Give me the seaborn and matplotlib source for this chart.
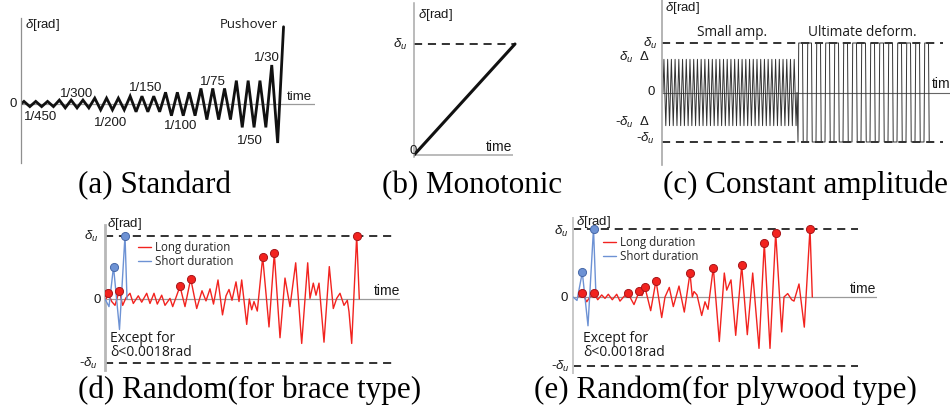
import numpy as np
import matplotlib
matplotlib.use("Agg")
import matplotlib.pyplot as plt
import matplotlib.transforms as mtransforms
from matplotlib.font_manager import FontProperties
import seaborn as sns

# ---------------------------------------------------------------- data
# (a) Standard protocol: drift levels, amplitudes [rad], cycles per level
std_levels = ['1/450', '1/300', '1/200', '1/150', '1/100', '1/75', '1/50', '1/30']
std_amps = [1/450, 1/300, 1/200, 1/150, 1/100, 1/75, 1/50, 1/30]
std_cycles = [3, 3, 3, 3, 3, 3, 3, 1]
pushover_peak = 0.066

# (b) Monotonic (delta / delta_u)
mono_t = [0, 101]
mono_d = [0.0, 1.0]

# (c) Constant amplitude (delta / delta_u)
small_amp = 0.67
small_cycles = 36
ult_amp = 1.0
ult_cycles = 15

# (d) Random, brace type (delta / delta_u)
brace_short_t = [0, 4, 8.5, 14.5, 20, 22]
brace_short_d = [0.0, -0.12, 0.51, -0.48, 1.0, 0.0]
brace_short_pk = [2, 4]
brace_long_t = [1, 3.3, 6.7, 10, 14.3, 17.7, 21, 25, 28.3, 33.3, 36.7, 41.7, 45, 49,
                52.3, 56.7, 60, 65, 67.7, 75, 80, 85.7, 91.7, 97, 101, 105, 108.5,
                113, 117.5, 121, 124, 127, 131, 134, 136.7, 141.7, 144.3, 146.7, 149,
                152.3, 157.7, 164, 169.3, 175, 180, 185, 190.7, 196.7, 202.7, 205,
                208.3, 211, 214, 219, 224.3, 228.3, 231.7, 235, 239, 242.3, 244,
                246.7, 251.7, 254.3]
brace_long_d = [0.0, 0.09, -0.04, -0.10, 0.13, -0.10, 0.02, 0.09, -0.07, 0.05, -0.05,
                0.09, -0.07, 0.09, -0.08, 0.06, -0.10, 0.01, -0.12, 0.20, -0.12, 0.32,
                -0.15, 0.13, -0.03, 0.16, -0.08, 0.30, -0.25, 0.05, 0.15, -0.02, 0.27,
                -0.04, 0.30, -0.40, 0.0, -0.17, -0.04, -0.19, 0.66, -0.44, 0.72, -0.61,
                0.33, -0.12, 0.57, -0.70, 0.57, 0.01, 0.25, 0.06, 0.25, -0.68, 0.51,
                -0.15, 0.01, 0.09, -0.10, -0.02, -0.20, -0.70, 1.0, 0.0]
brace_long_pk = [1, 4, 19, 21, 40, 42, 62]

# (e) Random, plywood type (delta / delta_u)
ply_short_t = [0, 4, 9.3, 15, 20.5, 23]
ply_short_d = [0.0, -0.05, 0.36, -0.42, 1.0, 0.0]
ply_short_pk = [2, 4]
ply_long_t = [5, 9.3, 13.7, 17, 21, 24.7, 28.7, 32, 35.3, 39.3, 43.7, 47, 50.5, 54.7,
              61, 64, 66.3, 69, 72, 77.7, 83, 88.7, 92, 96.3, 100.3, 106, 111.3, 117,
              119.3, 121, 124, 128.7, 132, 135, 140.3, 146.3, 151.3, 153.7, 158,
              162.7, 168.7, 174.3, 179.7, 186, 191.3, 197, 202.7, 208.7, 211, 214.7,
              218.7, 221, 226, 231.3, 237, 239.3]
ply_long_d = [0.0, 0.06, -0.07, 0.0, 0.06, -0.04, 0.03, -0.02, 0.04, -0.04, 0.04,
              -0.06, 0.0, 0.06, -0.11, 0.0, 0.09, 0.02, 0.14, -0.20, 0.24, -0.30, 0.0,
              0.14, -0.14, 0.16, -0.22, 0.35, 0.0, 0.08, 0.03, -0.27, -0.07, -0.18,
              0.43, -0.65, 0.35, 0.10, 0.25, -0.56, 0.46, -0.55, 0.35, -0.75, 0.79,
              -0.75, 0.94, -0.51, 0.0, 0.05, -0.04, -0.06, 0.19, -0.44, 1.0, 0.0]
ply_long_pk = [1, 4, 13, 16, 18, 20, 27, 34, 40, 44, 46, 54]

# ---------------------------------------------------------------- style
sns.set_theme(style="white")
plt.rcParams["font.family"] = ["Liberation Sans", "DejaVu Sans"]
plt.rcParams["mathtext.fontset"] = "custom"
plt.rcParams["mathtext.rm"] = "Liberation Sans"
plt.rcParams["mathtext.it"] = "Liberation Sans:italic"
plt.rcParams["mathtext.bf"] = "Liberation Sans:bold"

W, H = 950, 407
fig = plt.figure(figsize=(W / 100, H / 100), dpi=100)
fig.patch.set_facecolor("white")
PX = mtransforms.Affine2D().scale(1 / W, -1 / H).translate(0, 1) + fig.transFigure

RED, RED_E = "#f2231f", "#a8161a"
BLUE, BLUE_E = "#6d92d4", "#4769a8"
DASH = (0, (4.5, 3.2))


def make_ax(x0, x1, y0, y1, zero_y, scale, ycol="#9a9a9a", ylw=1.0):
    ax = fig.add_axes([x0 / W, 1 - y1 / H, (x1 - x0) / W, (y1 - y0) / H])
    ax.set_xlim(0, x1 - x0)
    ax.set_ylim((zero_y - y1) / scale, (zero_y - y0) / scale)
    ax.patch.set_alpha(0)
    for s in ["top", "right", "bottom"]:
        ax.spines[s].set_visible(False)
    ax.spines["left"].set_color(ycol)
    ax.spines["left"].set_linewidth(ylw)
    ax.set_xticks([])
    ax.set_yticks([])
    ax.set_xlabel("")
    ax.set_ylabel("")
    return ax


def txt(x, y, s, size=9.5, ha="center", va="center", family=None, **kw):
    fam = family if family is not None else ["Liberation Sans", "DejaVu Sans"]
    fig.text(x, y, s, transform=PX, fontsize=size, ha=ha, va=va,
             family=fam, color="#1a1a1a", **kw)


OPEN = ["Open Sans", "DejaVu Sans"]
SERIF = ["Liberation Serif", "DejaVu Serif"]

# ---------------------------------------------------------------- (a) Standard
period_a = 11.8
ta, da = [0.0], [0.0]
t0 = 0.0
for a, n in zip(std_amps, std_cycles):
    for _ in range(n):
        ta += [t0 + period_a / 4, t0 + 3 * period_a / 4]
        da += [a, -a]
        t0 += period_a
ta.append(ta[-1] + period_a / 2)
da.append(pushover_peak)

axA = make_ax(21, 315, 18, 163, 104, 1170, ycol="#8f8f8f", ylw=0.9)
axA.axhline(0, color="#9a9a9a", lw=0.9)
sns.lineplot(x=ta, y=da, ax=axA, color="#111111", lw=2.0, sort=False,
             estimator=None)
for ln in axA.get_lines():
    ln.set_solid_joinstyle("miter")
txt(13, 104, "0")
txt(25, 25, r"$\delta$[rad]", ha="left")
txt(278, 24, "Pushover", ha="right", family=OPEN)
lab_pos = [(40.3, 117), (76.7, 94), (111, 122.7), (145.5, 88), (180.5, 126),
           (213, 82), (250, 141.5), (267, 58)]
for lab, (x, y) in zip(std_levels, lab_pos):
    txt(x, y, lab)
txt(287, 96.5, "time", ha="left")

# ---------------------------------------------------------------- (b) Monotonic
axB = make_ax(414, 522, 3, 157, 155, 111, ycol="#a8a8a8", ylw=1.1)
axB.hlines(0, 0, 99, color="#a8a8a8", lw=1.1)
axB.hlines(1, 0, 102, color="#222222", lw=1.3, linestyles=[DASH])
sns.lineplot(x=mono_t, y=mono_d, ax=axB, color="#111111", lw=2.2)
txt(418, 15, r"$\delta$[rad]", ha="left")
txt(407, 44, r"$\delta_u$", ha="right")
txt(413.3, 150.5, "0")
txt(512, 146.7, "time", ha="right", size=10)

# ---------------------------------------------------------------- (c) Constant amplitude
tc, dc = [1.0], [0.0]
ps = (135 - 1) / small_cycles
for k in range(small_cycles):
    s0 = 1 + k * ps
    tc += [s0 + ps / 4, s0 + 3 * ps / 4]
    dc += [small_amp, -small_amp]
tc += [135.0, 136.0]
dc += [0.0, -ult_amp]
pu = (271 - 136) / ult_cycles
for k in range(ult_cycles):
    s0 = 136 + k * pu
    tc += [s0 + 0.08 * pu, s0 + 0.5 * pu, s0 + 0.58 * pu, s0 + pu]
    dc += [ult_amp, ult_amp, -ult_amp, -ult_amp]

axC = make_ax(662, 950, 0, 165, 92.5, 49.5, ycol="#a8a8a8", ylw=1.2)
axC.axhline(0, color="#666666", lw=0.8)
axC.hlines([1, -1], 0, 281, color="#222222", lw=1.3, linestyles=[DASH])
sns.lineplot(x=tc, y=dc, ax=axC, color="#333333", lw=0.7, sort=False,
             estimator=None)
txt(665, 8, r"$\delta$[rad]", ha="left")
txt(697, 33, "Small amp.", ha="left", size=9.8, family=OPEN)
txt(808, 33, "Ultimate deform.", ha="left", size=9.8, family=OPEN)
txt(657, 43, r"$\delta_u$", ha="right")
txt(650, 57, r"$\delta_u$  Δ", ha="right")
txt(651.5, 92, "0")
txt(650, 122, r"-$\delta_u$  Δ", ha="right")
txt(655, 138, r"-$\delta_u$", ha="right")
txt(932, 84, "time", ha="left", size=10)


# ---------------------------------------------------------------- (d), (e) Random
def random_panel(box, zero_y, scale, ycol, ylw, dash_len,
                 lt, ld, lpk, st, sd, spk, leg_xy):
    x0, x1, y0, y1 = box
    ax = make_ax(x0, x1, y0, y1, zero_y, scale, ycol=ycol, ylw=ylw)
    ax.axhline(0, color="#9a9a9a", lw=0.9)
    ax.hlines([1, -1], 0, dash_len, color="#222222", lw=1.3, linestyles=[DASH])
    sns.lineplot(x=lt, y=ld, ax=ax, color=RED, lw=1.0, sort=False,
                 estimator=None, label="Long duration", zorder=3)
    sns.lineplot(x=st, y=sd, ax=ax, color=BLUE, lw=1.0, sort=False,
                 estimator=None, label="Short duration", zorder=4)
    sns.scatterplot(x=[lt[i] for i in lpk], y=[ld[i] for i in lpk], ax=ax,
                    s=34, color=RED, edgecolor=RED_E, linewidth=0.7,
                    zorder=6, legend=False)
    sns.scatterplot(x=[st[i] for i in spk], y=[sd[i] for i in spk], ax=ax,
                    s=34, color=BLUE, edgecolor=BLUE_E, linewidth=0.7,
                    zorder=7, legend=False)
    h, l = ax.get_legend_handles_labels()
    ax.legend(h, l, loc="upper left", bbox_to_anchor=leg_xy, bbox_transform=PX,
              frameon=False, borderpad=0, borderaxespad=0, handlelength=1.15,
              handletextpad=0.3, labelspacing=0.12,
              prop=FontProperties(family="Open Sans", size=8.3))
    ax.set_xlabel("")
    ax.set_ylabel("")
    return ax


axD = random_panel((105, 400, 225, 370), 299, 63.5, "#b8b8b8", 2.0, 287,
                   brace_long_t, brace_long_d, brace_long_pk,
                   brace_short_t, brace_short_d, brace_short_pk, (138, 241))
txt(98, 236, r"$\delta_u$", ha="right")
txt(97.5, 300, "0")
txt(98, 363, r"-$\delta_u$", ha="right")
txt(107, 224, r"$\delta$[rad]", ha="left")
txt(110, 338, "Except for", ha="left", size=10, family=OPEN)
txt(110, 353, "δ<0.0018rad", ha="left", size=10, family=OPEN)
txt(400, 291, "time", ha="right", size=10)

axE = random_panel((573, 877, 218, 373), 297, 68.5, "#c8c8c8", 1.4, 285,
                   ply_long_t, ply_long_d, ply_long_pk,
                   ply_short_t, ply_short_d, ply_short_pk, (603, 236))
txt(568, 231, r"$\delta_u$", ha="right")
txt(564, 298, "0")
txt(570, 366, r"-$\delta_u$", ha="right")
txt(576, 222, r"$\delta$[rad]", ha="left")
txt(583, 338, "Except for", ha="left", size=10, family=OPEN)
txt(583, 353, "δ<0.0018rad", ha="left", size=10, family=OPEN)
txt(876, 289, "time", ha="right", size=10)

# ---------------------------------------------------------------- titles
for x, y, s in [(154.5, 193.5, "(a) Standard"), (472.5, 193.5, "(b) Monotonic"),
                (805.5, 193.5, "(c) Constant amplitude"),
                (249.5, 398, "(d) Random(for brace type)"),
                (725, 398, "(e) Random(for plywood type)")]:
    fig.text(x, y, s, transform=PX, fontsize=22.4, ha="center", va="baseline",
             family=SERIF, color="black")

fig.savefig("out.png", dpi=100, facecolor="white")
